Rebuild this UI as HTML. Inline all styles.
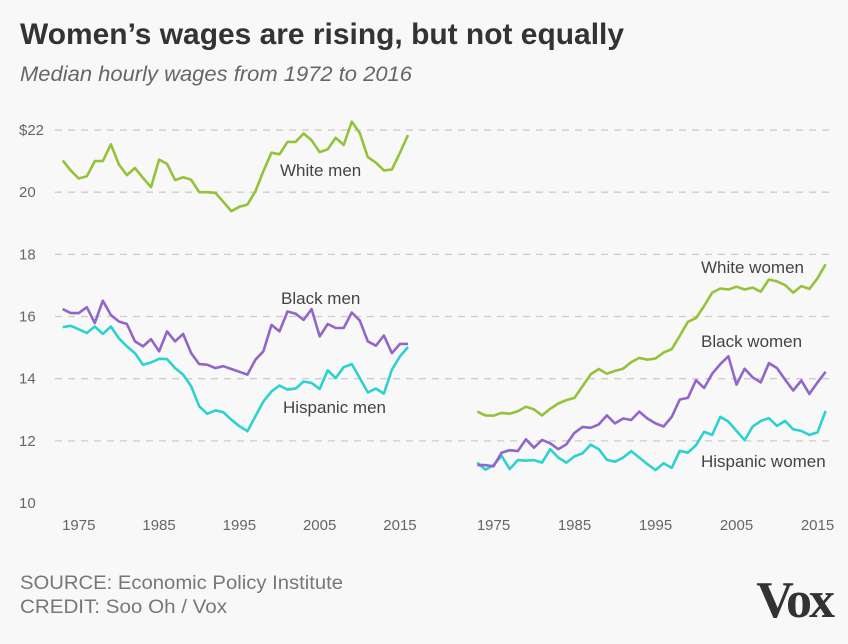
<!DOCTYPE html>
<html><head><meta charset="utf-8"><style>
body{margin:0;background:#f8f8f8;width:848px;height:644px;overflow:hidden;font-family:"Liberation Sans",sans-serif}
</style></head><body>
<svg width="848" height="644" viewBox="0 0 848 644" style="display:block">
<rect width="848" height="644" fill="#f8f8f8"/>
<text x="20" y="44" font-size="30" font-weight="bold" fill="#333" textLength="604" lengthAdjust="spacingAndGlyphs">Women’s wages are rising, but not equally</text>
<text x="20" y="81" font-size="21" font-style="italic" fill="#666" textLength="392" lengthAdjust="spacingAndGlyphs">Median hourly wages from 1972 to 2016</text>
<g id="grid"></g>
<g id="ylabels"></g>
<g id="xlabels"></g>
<g id="lines"></g>
<g font-size="17" fill="#444">
<text x="280" y="176">White men</text>
<text x="281" y="304">Black men</text>
<text x="283" y="413">Hispanic men</text>
<text x="701" y="273">White women</text>
<text x="701" y="347">Black women</text>
<text x="701" y="467">Hispanic women</text>
</g>
<text x="20" y="589" font-size="19" fill="#777" textLength="323" lengthAdjust="spacingAndGlyphs">SOURCE: Economic Policy Institute</text>
<text x="20" y="613" font-size="19" fill="#777" textLength="207" lengthAdjust="spacingAndGlyphs">CREDIT: Soo Oh / Vox</text>
<text x="832" y="617" text-anchor="end" font-size="52" font-weight="bold" font-family="Liberation Serif,serif" fill="#333" letter-spacing="-3">Vox</text>
</svg>
<script>
const startYear = 1973;
const yTicks = [10,12,14,16,18,20,22];
const yTickLabels = ["10","12","14","16","18","20","$22"];
const xTicks = [1975,1985,1995,2005,2015];
const whiteMen = [21.02,20.70,20.44,20.51,21.0,21.0,21.54,20.89,20.55,20.78,20.46,20.16,21.05,20.91,20.39,20.48,20.40,20.0,20.0,19.98,19.69,19.39,19.53,19.60,20.03,20.68,21.27,21.22,21.62,21.62,21.89,21.67,21.29,21.38,21.75,21.52,22.27,21.90,21.13,20.95,20.70,20.73,21.27,21.84];
const blackMen = [16.24,16.11,16.11,16.30,15.79,16.51,16.05,15.84,15.76,15.20,15.04,15.27,14.88,15.52,15.20,15.44,14.82,14.47,14.45,14.34,14.40,14.31,14.22,14.13,14.61,14.88,15.73,15.52,16.16,16.09,15.89,16.24,15.36,15.76,15.63,15.63,16.13,15.87,15.20,15.06,15.39,14.82,15.12,15.12];
const hispanicMen = [15.66,15.70,15.59,15.47,15.68,15.44,15.68,15.30,15.04,14.82,14.45,14.52,14.64,14.63,14.34,14.13,13.75,13.11,12.87,12.98,12.92,12.68,12.47,12.31,12.79,13.27,13.59,13.78,13.65,13.68,13.91,13.86,13.67,14.27,14.02,14.37,14.47,14.02,13.56,13.68,13.52,14.29,14.72,15.02];
const whiteWomen = [12.94,12.82,12.81,12.90,12.87,12.95,13.10,13.01,12.82,13.03,13.20,13.31,13.38,13.76,14.14,14.31,14.16,14.25,14.32,14.53,14.67,14.61,14.65,14.84,14.95,15.38,15.83,15.95,16.34,16.77,16.90,16.87,16.96,16.87,16.93,16.80,17.19,17.13,17.01,16.77,16.98,16.89,17.23,17.68];
const blackWomen = [11.22,11.22,11.18,11.62,11.70,11.67,12.05,11.78,12.03,11.92,11.73,11.89,12.26,12.45,12.42,12.53,12.82,12.56,12.72,12.67,12.94,12.72,12.56,12.46,12.77,13.33,13.38,13.95,13.70,14.16,14.47,14.72,13.81,14.32,14.04,13.88,14.50,14.34,13.97,13.62,13.94,13.51,13.88,14.22];
const hispanicWomen = [11.30,11.07,11.22,11.52,11.09,11.38,11.36,11.38,11.30,11.73,11.46,11.30,11.50,11.60,11.88,11.73,11.39,11.33,11.46,11.67,11.46,11.25,11.06,11.28,11.13,11.68,11.62,11.86,12.29,12.19,12.77,12.62,12.32,12.02,12.46,12.64,12.73,12.48,12.64,12.37,12.32,12.19,12.27,12.96];

const NS="http://www.w3.org/2000/svg";
function y(v){return 503-(v-10)*31.08;}
function xL(yr){return 62.7+(yr-startYear)*8.03;}
function xR(yr){return 477.3+(yr-startYear)*8.1;}
function mk(tag,attrs,parent){const e=document.createElementNS(NS,tag);for(const k in attrs)e.setAttribute(k,attrs[k]);document.getElementById(parent).appendChild(e);return e;}
yTicks.forEach((t,i)=>{
  if(t!==10){const g=mk('line',{x1:55,x2:832,y1:y(t),y2:y(t),stroke:'#ccc','stroke-width':1.3,'stroke-dasharray':'7 6'},'grid');
  
  }
  const l=mk('text',{x:19,y:y(t)+5,'font-size':15,fill:'#666'},'ylabels');
  l.textContent=yTickLabels[i];
  
  
});
xTicks.forEach(t=>{
  [xL,xR].forEach(f=>{
    const l=mk('text',{x:f(t),y:530,'font-size':15,fill:'#666','text-anchor':'middle'},'xlabels');
    l.textContent=t;
    
    
  });
});
function line(data,xf,color,name){
  const pts=data.map((v,i)=>xf(startYear+i).toFixed(1)+','+y(v).toFixed(1)).join(' ');
  const p=mk('polyline',{points:pts,fill:'none',stroke:color,'stroke-width':2.6,'stroke-linejoin':'round'},'lines');
  
  
}
line(whiteMen,xL,'#94c23a','line-white-men');
line(hispanicMen,xL,'#2dd2cf','line-hispanic-men');
line(blackMen,xL,'#9266c8','line-black-men');
line(whiteWomen,xR,'#94c23a','line-white-women');
line(hispanicWomen,xR,'#2dd2cf','line-hispanic-women');
line(blackWomen,xR,'#9266c8','line-black-women');
</script>
</body></html>
